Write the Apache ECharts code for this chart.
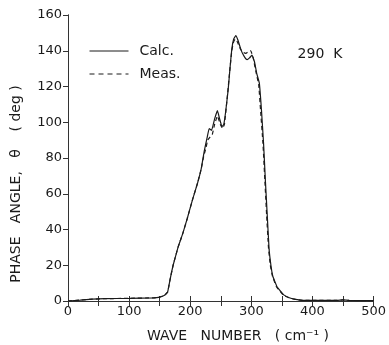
<!DOCTYPE html>
<html>
<head>
<meta charset="utf-8">
<script src="https://cdn.jsdelivr.net/npm/echarts@6/dist/echarts.min.js"></script>
<style>
  html, body { margin: 0; padding: 0; background: #fff; }
  #chart { width: 389px; height: 345px; }
</style>
</head>
<body>
<div id="chart"></div>
<script>
// wave number (cm-1) and phase angle (deg)
const calcWave = [0, 20, 40, 60, 100, 140, 150, 158, 163, 167, 172, 180, 188, 195, 204, 212, 218, 223, 228, 231, 235, 240, 244.5, 248, 252, 255, 258, 262, 265, 268, 271, 274.5, 278, 283, 288, 293, 297, 301, 305, 309, 313, 316.5, 320, 323, 326, 329, 332, 335, 342, 353, 362, 370, 386, 400, 440, 450, 460, 500];
const calcPhase = [0, 0.5, 1.0, 1.3, 1.5, 1.8, 2.2, 3.2, 5, 12, 20, 30, 38, 46, 57, 66, 74, 84, 92, 96.5, 95.5, 102, 106.5, 102, 97.5, 99, 106, 118, 130, 141, 146.5, 148.5, 146, 140.5, 137, 135, 136, 137.5, 134, 127, 122, 107, 88, 67, 48, 29, 20, 14, 8, 3.4, 1.8, 1, 0.3, 0.3, 0.3, 0.6, 0.3, 0.2];

const measWave = [0, 20, 40, 60, 100, 140, 150, 158, 163, 167, 172, 180, 188, 195, 204, 212, 218, 222, 226, 228.5, 232, 236, 240, 244.5, 249, 253, 256, 260, 265, 268, 271, 273.5, 277, 282, 287, 291, 295, 299, 303, 307, 312, 315, 319, 322, 325, 328, 331, 334.5, 341, 352, 362, 370, 386, 400, 440, 450, 460, 500];
const measPhase = [0, 0.5, 1.0, 1.3, 1.5, 1.8, 2.2, 3.2, 5, 12, 20, 30, 38, 46, 57, 66, 74, 81, 86, 90, 91.5, 93, 99, 103.5, 99, 96.5, 99, 112, 130, 140, 145, 146.5, 145, 141, 139, 138.5, 139.5, 140, 136, 129, 121, 107, 88, 68, 48, 30, 20, 14, 8, 3.4, 1.8, 1, 0.3, 0.3, 0.3, 0.6, 0.3, 0.2];

const xLabels = [0, 100, 200, 300, 400, 500];

const chart = echarts.init(document.getElementById('chart'), null, { renderer: 'canvas' });
const font = 'DejaVu Sans';
const ink = '#1a1a1a';

const axisLine = { show: true, lineStyle: { color: '#333', width: 1 } };

const option = {
  animation: false,
  backgroundColor: '#fff',
  textStyle: { fontFamily: font, color: ink },
  grid: { left: 68, right: 14, top: 15, bottom: 44 },
  legend: {
    orient: 'vertical',
    left: 84,
    top: 39,
    itemWidth: 39,
    itemHeight: 10,
    itemGap: 9,
    itemStyle: { opacity: 0 },
    lineStyle: { width: 1 },
    textStyle: { fontFamily: font, fontSize: 14, color: ink, padding: [0, 0, 0, 6] },
    data: ['Calc.', { name: 'Meas.', lineStyle: { type: [5, 4], width: 1 } }]
  },
  xAxis: [
    {
      type: 'value', min: 0, max: 500, interval: 50,
      axisLine: axisLine,
      axisTick: { show: true, inside: true, length: 5, lineStyle: { color: '#333' } },
      splitLine: { show: false },
      axisLabel: {
        margin: 4, fontSize: 13, fontFamily: font, color: ink,
        formatter: v => xLabels.includes(v) ? String(v) : ''
      }
    },
    {
      type: 'value', min: 0, max: 500, interval: 50, position: 'top',
      axisLine: axisLine,
      axisTick: { show: true, inside: true, length: 5, lineStyle: { color: '#333' } },
      splitLine: { show: false },
      axisLabel: { show: false }
    }
  ],
  yAxis: [
    {
      type: 'value', min: 0, max: 160, interval: 20,
      axisLine: axisLine,
      axisTick: { show: true, inside: false, length: 4, lineStyle: { color: '#333' } },
      splitLine: { show: false },
      axisLabel: { margin: 6, fontSize: 13, fontFamily: font, color: ink }
    },
    {
      type: 'value', min: 0, max: 160, interval: 20, position: 'right',
      axisLine: axisLine,
      axisTick: { show: true, inside: true, length: 5, lineStyle: { color: '#333' } },
      splitLine: { show: false },
      axisLabel: { show: false }
    }
  ],
  graphic: [
    {
      type: 'text', x: 238, y: 336,
      style: { text: 'WAVE   NUMBER   ( cm⁻¹ )', font: '14px ' + font, fill: ink, align: 'center', verticalAlign: 'middle' }
    },
    {
      type: 'text', x: 16, y: 184, rotation: Math.PI / 2,
      style: { text: 'PHASE   ANGLE,   θ    ( deg )', font: '14px ' + font, fill: ink, align: 'center', verticalAlign: 'middle' }
    },
    {
      type: 'text', x: 320, y: 54,
      style: { text: '290  K', font: '14px ' + font, fill: ink, align: 'center', verticalAlign: 'middle' }
    }
  ],
  series: [
    {
      name: 'Calc.', type: 'line', symbol: 'none', smooth: 0.1,
      data: calcWave.map((w, i) => [w, calcPhase[i]]),
      lineStyle: { color: ink, width: 1.2, type: 'solid' },
      itemStyle: { color: ink }
    },
    {
      name: 'Meas.', type: 'line', symbol: 'none', smooth: 0.1,
      data: measWave.map((w, i) => [w, measPhase[i]]),
      lineStyle: { color: ink, width: 1.2, type: [4, 3] },
      itemStyle: { color: ink }
    }
  ]
};

chart.setOption(option);
</script>
</body>
</html>
